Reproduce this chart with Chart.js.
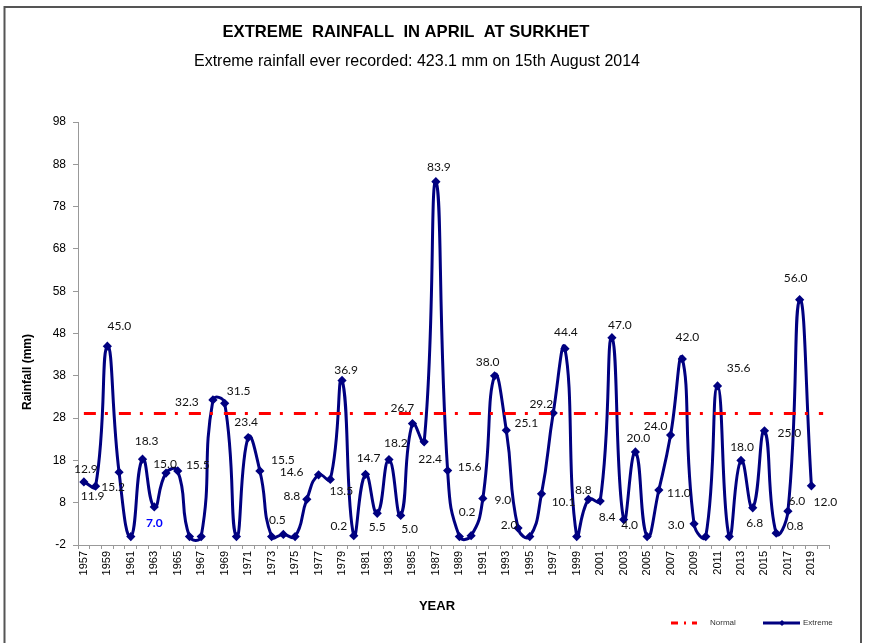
<!DOCTYPE html>
<html>
<head>
<meta charset="utf-8">
<title>Extreme rainfall in April at Surkhet</title>
<script src="https://cdn.jsdelivr.net/npm/chart.js@4.4.1/dist/chart.umd.min.js"></script>
<style>
  html, body { margin: 0; padding: 0; background: #fff; }
  canvas { display: block; }
</style>
</head>
<body>
<canvas id="myChart" width="872" height="643"></canvas>
<script>
"use strict";

// categories (last slot is empty, the normal line runs to it)
const years = [
  "1957", "1958", "1959", "1960", "1961", "1962", "1963", "1964", "1965", "1966",
  "1967", "1968", "1969", "1970", "1971", "1972", "1973", "1974", "1975", "1976",
  "1977", "1978", "1979", "1980", "1981", "1982", "1983", "1984", "1985", "1986",
  "1987", "1988", "1989", "1990", "1991", "1992", "1993", "1994", "1995", "1996",
  "1997", "1998", "1999", "2000", "2001", "2002", "2003", "2004", "2005", "2006",
  "2007", "2008", "2009", "2010", "2011", "2012", "2013", "2014", "2015", "2016",
  "2017", "2018", "2019", "2020"
];

const extremeValues = [
  12.9, 11.9, 45.0, 15.2, 0, 18.3, 7.0, 15.0, 15.5, 0,
  0, 32.3, 31.5, 0, 23.4, 15.5, 0, 0.5, 0, 8.8,
  14.6, 13.5, 36.9, 0.2, 14.7, 5.5, 18.2, 5.0, 26.7, 22.4,
  83.9, 15.6, 0, 0.2, 9.0, 38.0, 25.1, 2.0, 0, 10.1,
  29.2, 44.4, 0, 8.8, 8.4, 47.0, 4.0, 20.0, 0, 11.0,
  24.0, 42.0, 3.0, 0, 35.6, 0, 18.0, 6.8, 25.0, 0.8,
  6.0, 56.0, 12.0, null
];

const normalValue = 29.1;
const normalValues = years.map(() => normalValue);

const yTicks = [-2, 8, 18, 28, 38, 48, 58, 68, 78, 88, 98];

// where each value label sits relative to its point (null = no label)
const labelOffsets = [
  [2, -13], [-3, 10], [12, -20], [-6, 15], null, [4, -18], [0, 16], [-1, -9], [20, -6], null,
  null, [-26, 2], [14, -12], null, [-2, -15], [23, -11], null, [-6, -14], null, [-15, -3],
  [-27, -3], [11, 12], [4, -10], [-15, -10], [3, -16], [0, 14], [7, -16], [9, 14], [-10, -15], [6, 17],
  [3, -15], [22, -3], null, [-4, -24], [20, 2], [-7, -14], [20, -7], [-9, -3], null, [22, 8],
  [-12, -9], [1, -17], null, [-5, -9], [7, 16], [8, -13], [6, 6], [3, -14], null, [20, 3],
  [-15, -9], [5, -22], [-18, 1], null, [21, -18], null, [1, -13], [2, 15], [25, 2], [19, -7],
  [9, -10], [-4, -22], [14, 16], null
];
const highlightIndex = 6; // 1963 label is blue bold

const NAVY = "#000080";
const RED = "#ff0000";

// draw text squeezed to a given width (the original uses a narrow face)
function narrowText(ctx, text, cx, cy, width) {
  const w = ctx.measureText(text).width;
  ctx.save();
  ctx.translate(cx, cy);
  ctx.scale(width / w, 1);
  ctx.fillText(text, 0, 0);
  ctx.restore();
}

const decorations = {
  id: "decorations",
  afterDraw(chart) {
    const ctx = chart.ctx;
    ctx.save();

    // frame
    ctx.strokeStyle = "#555";
    ctx.lineWidth = 2;
    ctx.beginPath();
    ctx.moveTo(4.5, 660);
    ctx.lineTo(4.5, 7);
    ctx.lineTo(861, 7);
    ctx.lineTo(861, 660);
    ctx.stroke();

    // titles
    ctx.fillStyle = "#000";
    ctx.textAlign = "center";
    ctx.textBaseline = "middle";
    ctx.font = "bold 17px 'Liberation Sans', Arial, sans-serif";
    narrowText(ctx, "EXTREME  RAINFALL  IN APRIL  AT SURKHET", 406, 32, 367);
    ctx.font = "17px 'Liberation Sans', Arial, sans-serif";
    narrowText(ctx, "Extreme rainfall ever recorded: 423.1 mm on 15th August 2014", 417, 61, 446);

    // axis titles
    ctx.font = "bold 13px 'Liberation Sans', Arial, sans-serif";
    ctx.fillText("YEAR", 437, 606);
    ctx.save();
    ctx.translate(28, 372);
    ctx.rotate(-Math.PI / 2);
    ctx.font = "bold 12px 'Liberation Sans', Arial, sans-serif";
    ctx.fillText("Rainfall (mm)", 0, 0);
    ctx.restore();

    // value labels
    const meta = chart.getDatasetMeta(1);
    meta.data.forEach((pt, i) => {
      const off = labelOffsets[i];
      if (!off || extremeValues[i] === null) return;
      if (i === highlightIndex) {
        ctx.fillStyle = "#0000ff";
        ctx.font = "bold 12px Lato, 'Open Sans', sans-serif";
      } else {
        ctx.fillStyle = "#111";
        ctx.font = "12px Lato, 'Open Sans', sans-serif";
      }
      ctx.fillText(extremeValues[i].toFixed(1), pt.x + off[0], pt.y + off[1]);
    });

    // legend
    const ly = 623;
    ctx.strokeStyle = RED;
    ctx.lineWidth = 3;
    ctx.setLineDash([7, 6, 2, 6]);
    ctx.beginPath();
    ctx.moveTo(671, ly);
    ctx.lineTo(697, ly);
    ctx.stroke();
    ctx.setLineDash([]);
    ctx.strokeStyle = NAVY;
    ctx.beginPath();
    ctx.moveTo(763, ly);
    ctx.lineTo(800, ly);
    ctx.stroke();
    ctx.fillStyle = NAVY;
    ctx.beginPath();
    ctx.moveTo(782, ly - 3);
    ctx.lineTo(785, ly);
    ctx.lineTo(782, ly + 3);
    ctx.lineTo(779, ly);
    ctx.closePath();
    ctx.fill();
    ctx.fillStyle = "#333";
    ctx.textAlign = "left";
    ctx.font = "8px 'Liberation Sans', Arial, sans-serif";
    ctx.fillText("Normal", 710, ly);
    ctx.fillText("Extreme", 803, ly);

    ctx.restore();
  }
};

const data = {
  labels: years,
  datasets: [{
    label: "Normal",
    data: normalValues,
    borderColor: RED,
    borderWidth: 3,
    borderDash: [12, 9, 3, 11],
    pointRadius: 0,
    tension: 0,
    fill: false
  },
  {
    label: "Extreme",
    data: extremeValues,
    borderColor: NAVY,
    backgroundColor: NAVY,
    borderWidth: 3,
    pointStyle: "rectRot",
    pointRadius: 2.5,
    tension: 0.5,
    fill: false,
    spanGaps: false
  }]
};

const config = {
  type: "line",
  data,
  options: {
    responsive: false,
    animation: false,
    devicePixelRatio: 1,
    layout: {
      padding: { left: 0, right: 43, top: 122, bottom: 0 }
    },
    plugins: {
      legend: { display: false },
      title: { display: false },
      tooltip: { enabled: false }
    },
    scales: {
      x: {
        offset: true,
        afterFit: (s) => { s.height = 98; },
        grid: {
          display: true,
          offset: true,
          drawOnChartArea: false,
          drawTicks: true,
          tickLength: 4,
          color: "#999"
        },
        border: { display: true, color: "#999", width: 1 },
        ticks: {
          autoSkip: false,
          maxRotation: 90,
          minRotation: 90,
          padding: 2,
          color: "#000",
          font: { family: "'Liberation Sans', Arial, sans-serif", size: 11 },
          callback: function (value, index) {
            return index % 2 === 0 ? this.getLabelForValue(value) : "";
          }
        }
      },
      y: {
        min: yTicks[0],
        max: yTicks[yTicks.length - 1],
        afterFit: (s) => { s.width = 78; },
        afterBuildTicks: (s) => { s.ticks = yTicks.map((v) => ({ value: v })); },
        grid: {
          display: true,
          drawOnChartArea: false,
          drawTicks: true,
          tickLength: 5,
          color: "#999"
        },
        border: { display: true, color: "#999", width: 1 },
        ticks: {
          padding: 7,
          color: "#000",
          font: { family: "'Liberation Sans', Arial, sans-serif", size: 12 }
        }
      }
    }
  },
  plugins: [decorations]
};

const myChart = new Chart(
  document.getElementById("myChart"),
  config
);
</script>
</body>
</html>
